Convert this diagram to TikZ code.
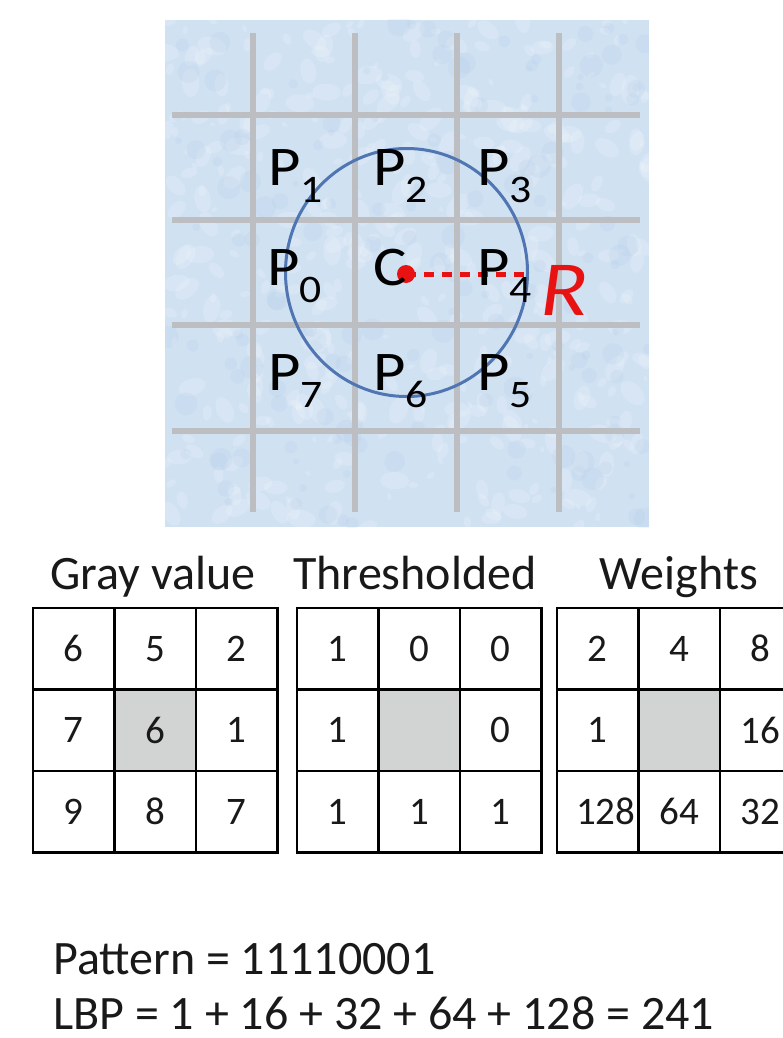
\documentclass[tikz,border=0pt]{standalone}
\usepackage{fontspec}
\setmainfont{Carlito}
\definecolor{icebase}{RGB}{208,225,242}
\definecolor{icedark}{RGB}{176,202,230}
\definecolor{gridgray}{RGB}{188,190,194}
\definecolor{circblue}{RGB}{79,118,178}
\definecolor{rred}{RGB}{232,18,18}
\definecolor{cellgray}{RGB}{210,212,212}
\definecolor{ink}{RGB}{25,25,25}
\newcommand\psub[1]{\raisebox{-17pt}{\fontsize{39}{39}\selectfont #1}}
\newcommand\wide[1]{\scalebox{1.12}[1]{#1}}
\begin{document}
\begin{tikzpicture}[x=1pt,y=-1pt,
  gridline/.style={line width=6pt, draw=gridgray},
  cell/.style={draw=black, line width=2.6pt, minimum width=81.5pt, minimum height=81.5pt,
    inner sep=0pt, font=\fontsize{39}{39}\selectfont, text=ink},
  centercell/.style={cell, fill=cellgray},
  tabtitle/.style={anchor=base, inner sep=0pt, font=\fontsize{48}{48}\selectfont, text=ink},
  plabel/.style={anchor=base west, inner sep=0pt, font=\fontsize{56}{56}\selectfont, text=black},
  formula/.style={anchor=base west, inner sep=0pt, font=\fontsize{48}{48}\selectfont, text=ink}]

\useasboundingbox[fill=white] (0,0) rectangle (782,1038);

% ---- ice-textured background ----
\fill[icebase] (165,20) rectangle (649,527);
\begin{scope}
  \clip (165,20) rectangle (649,527);
  \pgfmathsetseed{11}
  \foreach \i in {1,...,420}{
    \pgfmathsetmacro\xx{165+484*rnd}
    \pgfmathsetmacro\yy{20+507*rnd}
    \pgfmathsetmacro\rr{3+12*rnd}
    \pgfmathsetmacro\aa{180*rnd}
    \fill[white,opacity=0.16, rotate around={\aa:(\xx,\yy)}] (\xx,\yy) ellipse [x radius=\rr, y radius=0.6*\rr];
  }
  \foreach \i in {1,...,160}{
    \pgfmathsetmacro\xx{165+484*rnd}
    \pgfmathsetmacro\yy{20+507*rnd}
    \pgfmathsetmacro\rr{3+9*rnd}
    \fill[icedark,opacity=0.16] (\xx,\yy) circle[radius=\rr];
  }
\end{scope}

% ---- grid lines ----
\foreach \gx in {253,355,457,559}{
  \draw[gridline] (\gx,33) -- (\gx,512);
}
\foreach \gy in {115,220,325,431}{
  \draw[gridline] (172,\gy) -- (640,\gy);
}

% ---- circle and radius ----
\draw[circblue, line width=3pt] (406.5,272.5) ellipse [x radius=121, y radius=124];
\coordinate (cc) at (406,274);
\coordinate (rend) at (524,274);
\draw[rred, line width=5pt, dash pattern=on 10pt off 8pt] (cc) -- (rend);
\node[circle, fill=rred, minimum size=18pt, inner sep=0pt] (cdot) at (cc) {};

% ---- labels ----
\node[plabel] (p1) at (268,185) {\wide{P\psub{1}}};
\node[plabel] (p2) at (373,185) {\wide{P\psub{2}}};
\node[plabel] (p3) at (477,185) {\wide{P\psub{3}}};
\node[plabel] (p0) at (267,285) {\wide{P\psub{0}}};
\node[plabel] (cl) at (373,285) {\wide{C}};
\node[plabel] (p4) at (477,285) {\wide{P\psub{4}}};
\node[plabel] (p7) at (268,390) {\wide{P\psub{7}}};
\node[plabel] (p6) at (373,390) {\wide{P\psub{6}}};
\node[plabel] (p5) at (477,390) {\wide{P\psub{5}}};
\node[anchor=base west, inner sep=0pt, text=rred, font=\fontsize{78}{78}\selectfont\itshape] (rlab) at (540,315) {\wide{R}};

% ---- table titles ----
\node[tabtitle] (t1) at (153,589) {Gray value};
\node[tabtitle] (t2) at (415,589) {Thresholded};
\node[tabtitle] (t3) at (679,589) {Weights};

% ---- Gray value table ----
\node[cell] (a11) at (73.75,648.75) {6};
\node[cell] (a12) at (155.25,648.75) {5};
\node[cell] (a13) at (236.75,648.75) {2};
\node[cell] (a21) at (73.75,730.25) {7};
\node[centercell] (a22) at (155.25,730.25) {6};
\node[cell] (a23) at (236.75,730.25) {1};
\node[cell] (a31) at (73.75,811.75) {9};
\node[cell] (a32) at (155.25,811.75) {8};
\node[cell] (a33) at (236.75,811.75) {7};

% ---- Thresholded table ----
\node[cell] (b11) at (337.75,648.75) {1};
\node[cell] (b12) at (419.25,648.75) {0};
\node[cell] (b13) at (500.75,648.75) {0};
\node[cell] (b21) at (337.75,730.25) {1};
\node[centercell] (b22) at (419.25,730.25) {};
\node[cell] (b23) at (500.75,730.25) {0};
\node[cell] (b31) at (337.75,811.75) {1};
\node[cell] (b32) at (419.25,811.75) {1};
\node[cell] (b33) at (500.75,811.75) {1};

% ---- Weights table ----
\node[cell] (c11) at (597.75,648.75) {2};
\node[cell] (c12) at (679.25,648.75) {4};
\node[cell] (c13) at (760.75,648.75) {8};
\node[cell] (c21) at (597.75,730.25) {1};
\node[centercell] (c22) at (679.25,730.25) {};
\node[cell] (c23) at (760.75,730.25) {16};
\node[cell, text width=81.5pt, align=right] (c31) at (597.75,811.75) {128\hspace*{3pt}};
\node[cell] (c32) at (679.25,811.75) {64};
\node[cell] (c33) at (760.75,811.75) {32};

% ---- formulas ----
\node[formula] (pat) at (53,974) {Pattern = 11110001};
\node[formula] (lbp) at (53,1029) {LBP = 1 + 16 + 32 + 64 + 128 = 241};
\end{tikzpicture}
\end{document}
